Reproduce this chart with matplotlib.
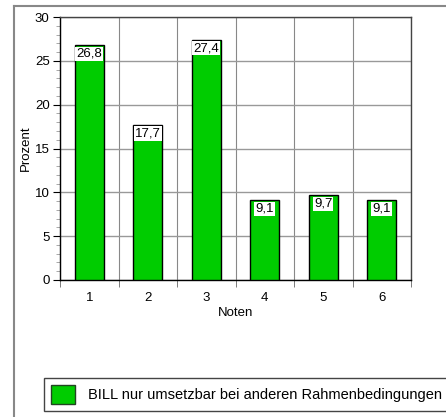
import matplotlib.pyplot as plt
from matplotlib.lines import Line2D
from matplotlib.patches import Patch
from matplotlib.ticker import MultipleLocator, FixedLocator

plt.rcParams['font.family'] = ['Liberation Sans', 'DejaVu Sans']

noten = [1, 2, 3, 4, 5, 6]
prozent = [26.8, 17.7, 27.4, 9.1, 9.7, 9.1]
labels = ['26,8', '17,7', '27,4', '9,1', '9,7', '9,1']
legend_text = 'BILL nur umsetzbar bei anderen Rahmenbedingungen'

fig = plt.figure(figsize=(4.46, 4.17), dpi=100)
W, H = 446, 417
ax = fig.add_axes([60 / W, 1 - 280 / H, 351 / W, 263 / H])

# outer gray frame (left and top only visible)
fig.add_artist(Line2D([14 / W, 14 / W], [0, 1 - 6 / H], color='#888888', lw=1.5,
                      transform=fig.transFigure))
fig.add_artist(Line2D([14 / W, 1], [1 - 6 / H, 1 - 6 / H], color='#888888', lw=1.5,
                      transform=fig.transFigure))

ax.bar(noten, prozent, width=0.5, color='#00cc00', edgecolor='black', lw=1, zorder=3)
for x, v, t in zip(noten, prozent, labels):
    ax.text(x, v - 0.3, t, ha='center', va='top', fontsize=9.5, zorder=4,
            bbox=dict(boxstyle='square,pad=0.08', fc='white', ec='none'))

ax.set_xlim(0.5, 6.5)
ax.set_ylim(0, 30)
ax.set_xticks(noten)
ax.xaxis.set_minor_locator(FixedLocator([0.5, 1.5, 2.5, 3.5, 4.5, 5.5, 6.5]))
ax.yaxis.set_major_locator(MultipleLocator(5))
ax.yaxis.set_minor_locator(MultipleLocator(1))
ax.tick_params(axis='x', which='major', length=0, labelsize=9.5, pad=8.5)
ax.tick_params(axis='x', which='minor', length=5, color='#666666')
ax.tick_params(axis='y', which='major', length=5, labelsize=9.5, pad=2.5)
ax.tick_params(axis='y', which='minor', length=3, color='#999999')
ax.grid(axis='y', which='major', color='#999999', lw=1, zorder=1)
ax.grid(axis='x', which='minor', color='#888888', lw=0.8, zorder=1)
for s in ax.spines.values():
    s.set_linewidth(1)
ax.spines['right'].set_color('#444444')
ax.spines['top'].set_color('#444444')

ax.set_xlabel('Noten', fontsize=9.5, labelpad=2.5)
ax.set_ylabel('Prozent', fontsize=9.5, labelpad=2)

fig.legend(handles=[Patch(fc='#00cc00', ec='#224422', lw=1)], labels=[legend_text],
           loc='upper left', bbox_to_anchor=(44 / W, 1 - 378 / H), fontsize=10.5,
           fancybox=False, edgecolor='#444444', framealpha=1, borderpad=0.45,
           borderaxespad=0, handlelength=1.7, handleheight=1.7, handletextpad=0.85)

fig.savefig('out.png', dpi=100)
